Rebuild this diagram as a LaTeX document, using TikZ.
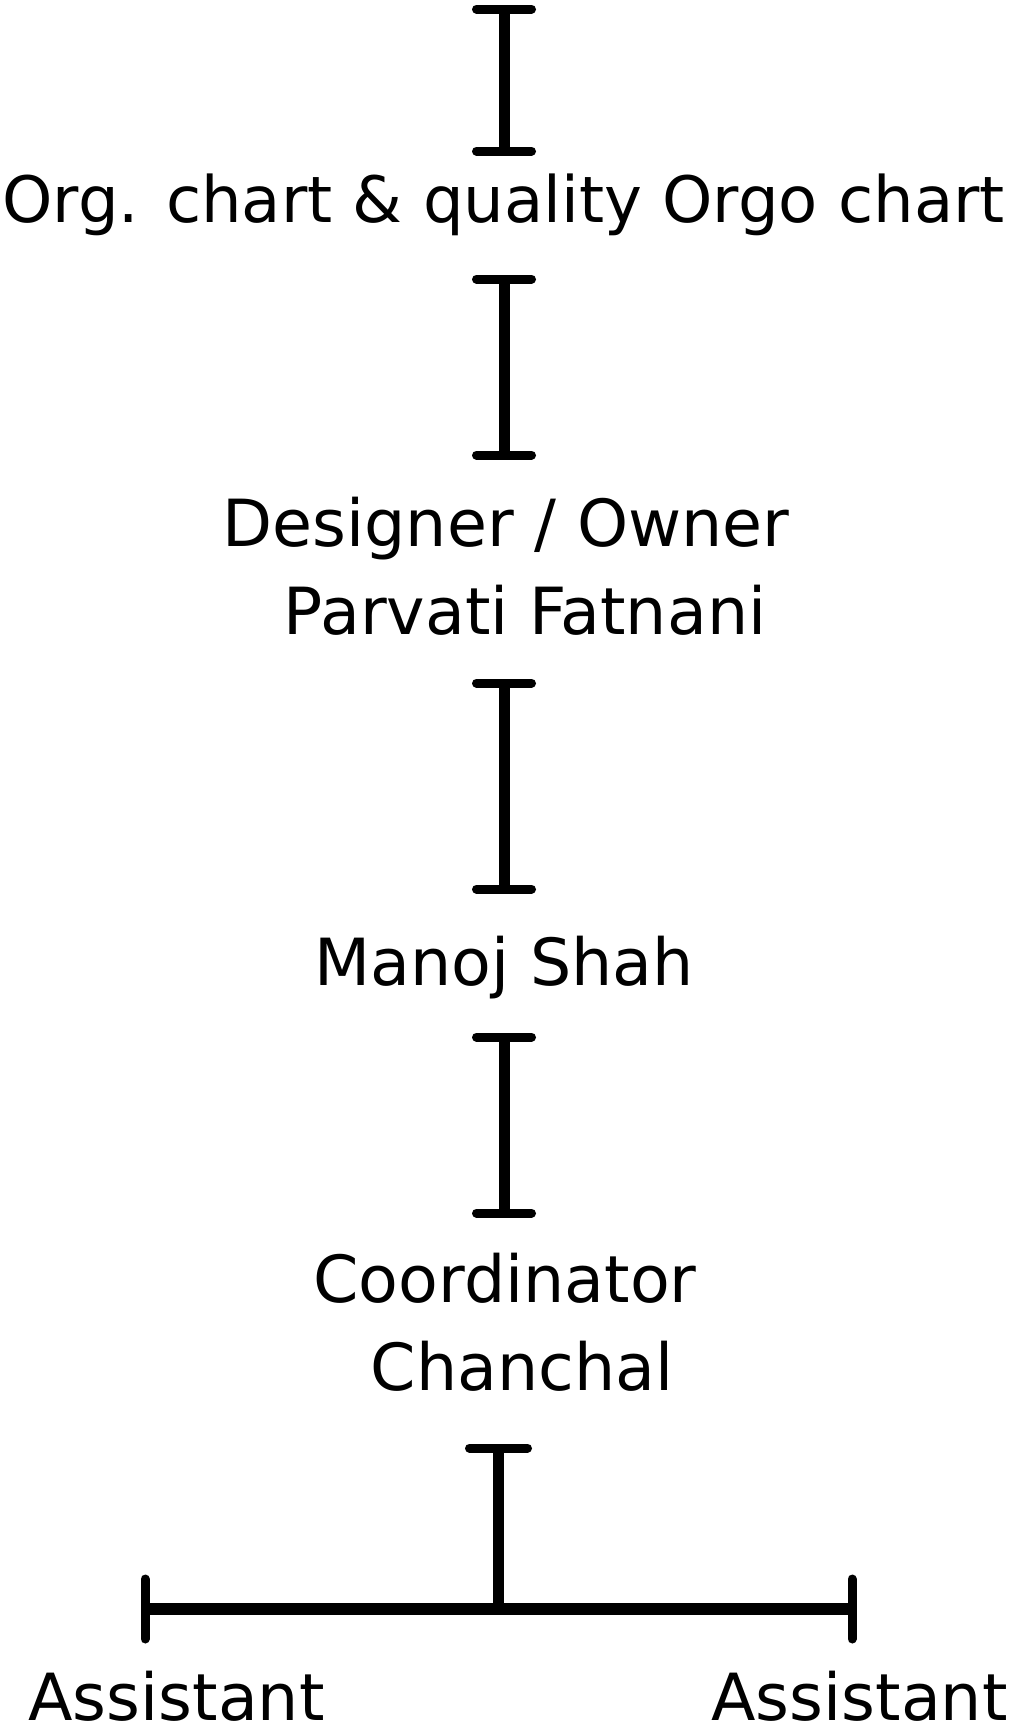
\documentclass[tikz,border=0pt]{standalone}
\usepackage{fontspec}
\setmainfont{DejaVu Sans}
\begin{document}
\begin{tikzpicture}[x=1pt,y=-1pt,
  lbl/.style={anchor=base,inner sep=0pt,font=\fontsize{65}{78}\selectfont},
  stem/.style={line width=11pt,line cap=butt},
  capline/.style={line width=9pt,line cap=round},
  hbar/.style={line width=12pt,line cap=butt}]
\useasboundingbox (0,0) rectangle (1015,1729);
% texts
\node[lbl,font=\fontsize{64}{77}\selectfont] (t1) at (503.5,222) {Org. chart \& quality Orgo chart};
\node[lbl] (t2a) at (506,546) {Designer / Owner};
\node[lbl] (t2b) at (525,634) {Parvati Fatnani};
\node[lbl] (t3) at (504,985) {Manoj Shah};
\node[lbl] (t4a) at (505,1302) {Coordinator};
\node[lbl] (t4b) at (522,1390) {Chanchal};
\node[lbl] (a1) at (176.5,1720) {Assistant};
\node[lbl] (a2) at (859.5,1720) {Assistant};
% I-bars
\foreach \n/\ya/\yb in {1/9/151, 2/279/455, 3/683/889, 4/1037/1213}{
  \coordinate (b\n top) at (504,\ya);
  \coordinate (b\n bot) at (504,\yb);
  \draw[stem] (b\n top) -- (b\n bot);
  \draw[capline] ([xshift=-27.5pt]b\n top) -- ([xshift=27.5pt]b\n top);
  \draw[capline] ([xshift=-27.5pt]b\n bot) -- ([xshift=27.5pt]b\n bot);
}
% bottom branch
\coordinate (b5top) at (498.5,1448);
\coordinate (b5bot) at (498.5,1609);
\coordinate (hl) at (145,1609);
\coordinate (hr) at (852,1609);
\draw[stem] (b5top) -- (b5bot);
\draw[capline] ([xshift=-29pt]b5top) -- ([xshift=29pt]b5top);
\draw[hbar] (hl) -- (hr);
\draw[capline] ([yshift=-30pt]hl) -- ([yshift=30pt]hl);
\draw[capline] ([yshift=-30pt]hr) -- ([yshift=30pt]hr);
\end{tikzpicture}
\end{document}
